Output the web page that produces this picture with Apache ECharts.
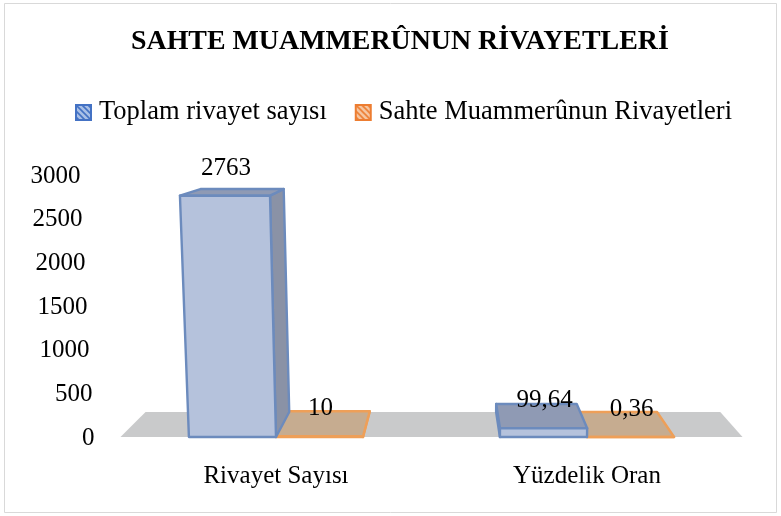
<!DOCTYPE html>
<html><head><meta charset="utf-8">
<script src="https://cdn.jsdelivr.net/npm/echarts@6/dist/echarts.min.js"></script>
<style>html,body{margin:0;padding:0;background:#fff}#c{width:781px;height:516px}</style>
</head><body><div id="c"></div>
<script>
const titleText = 'SAHTE MUAMMERÛNUN RİVAYETLERİ';
const categories = ['Rivayet Sayısı', 'Yüzdelik Oran'];
const totalName = 'Toplam rivayet sayısı';
const fakeName = 'Sahte Muammerûnun Rivayetleri';
const totalValues = [2763, 99.64];
const fakeValues = [10, 0.36];
const yTicks = [0, 500, 1000, 1500, 2000, 2500, 3000];

const FONT = '"Liberation Serif", serif';
const vp = {x: 450, y: 108}, depth = 0.924, lean = 0.0345 / 242;
function pattern(bg, fg) {
  const s = 6, c = document.createElement('canvas');
  c.width = c.height = s;
  const g = c.getContext('2d');
  g.fillStyle = bg; g.fillRect(0, 0, s, s);
  g.strokeStyle = fg; g.lineWidth = 1.6;
  g.beginPath(); g.moveTo(-1, -1); g.lineTo(s + 1, s + 1);
  g.moveTo(-1, s - 1); g.lineTo(1, s + 1); g.moveTo(s - 1, -1); g.lineTo(s + 1, 1); g.stroke();
  return {image: c, repeat: 'repeat'};
}
function projector(api) {
  const baseY = api.coord([0, 0])[1];
  return (x, y, d) => {
    const s = (d ? depth : 1) * (1 + lean * (baseY - y));
    return [vp.x + (x - vp.x) * s, d ? vp.y + (y - vp.y) * depth : y];
  };
}
function barRenderer(side, cols) {
  return (params, api) => {
    const cat = api.value(0), val = api.value(1);
    const c = api.coord([cat, val]), b = api.coord([cat, 0]);
    const w = api.size([1, 0])[0] * 0.28;
    const x0 = side < 0 ? c[0] - w : c[0], x1 = x0 + w;
    const P = projector(api), top = c[1], base = b[1];
    const poly = (pts, fill) => ({type: 'polygon', shape: {points: pts},
      style: {fill: fill, stroke: cols.line, lineWidth: 2.4, lineJoin: 'round'}});
    const kids = [];
    if (x1 < vp.x) kids.push(poly([P(x1, base, 0), P(x1, base, 1), P(x1, top, 1), P(x1, top, 0)], cols.side));
    if (x0 > vp.x) kids.push(poly([P(x0, base, 0), P(x0, base, 1), P(x0, top, 1), P(x0, top, 0)], cols.side));
    kids.push(poly([P(x0, top, 0), P(x1, top, 0), P(x1, top, 1), P(x0, top, 1)], cols.top));
    kids.push(poly([P(x0, base, 0), P(x1, base, 0), P(x1, top, 0), P(x0, top, 0)], cols.front));
    const m = P((x0 + x1) / 2, top, 0);
    kids.push({type: 'text', style: {text: String(val).replace('.', ','), x: m[0] + 1, y: top - 27.5,
      align: 'center', verticalAlign: 'middle', font: '25px ' + FONT, fill: '#000'}});
    return {type: 'group', children: kids};
  };
}
function floorRenderer(params, api) {
  const w = api.size([1, 0])[0];
  const l = api.coord([0, 0])[0] - w / 2, r = api.coord([1, 0])[0] + w / 2;
  const P = projector(api), y = api.coord([0, 0])[1];
  return {type: 'polygon', shape: {points: [P(l, y, 0), P(r, y, 0), P(r, y, 1), P(l, y, 1)]},
    style: {fill: '#c9cacb'}};
}
const blue = {front: '#b5c2dc', side: '#8a92a6', top: '#8f9ab4', line: '#6c8bbd'};
const orange = {front: '#c6ac90', side: '#c6ac90', top: '#c6ac90', line: '#ee9f58'};

const chart = echarts.init(document.getElementById('c'), null, {renderer: 'canvas'});
const rich = {};
yTicks.forEach(t => { rich['t' + t] = {padding: [2, Math.round(14 * t / 3000), 0, 0], fontFamily: FONT, fontSize: 25, color: '#000'}; });
chart.setOption({
  animation: false,
  backgroundColor: '#fff',
  graphic: [{type: 'rect', z: -10, silent: true, shape: {x: 4.5, y: 3.5, width: 772, height: 509},
    style: {fill: '#fff', stroke: '#d9d9d9', lineWidth: 1}}],
  title: {text: titleText, left: 126, top: 23,
    textStyle: {fontFamily: FONT, fontSize: 27.9, fontWeight: 'bold', color: '#000'}},
  legend: {data: [
      {name: totalName, icon: 'rect'}, {name: fakeName, icon: 'rect'}],
    left: 70, top: 94, itemWidth: 15, itemHeight: 15, itemGap: 28,
    textStyle: {fontFamily: FONT, fontSize: 26.5, color: '#000', padding: [0, 0, 0, 3]}},
  grid: {left: 120.5, right: 38.5, top: 175, bottom: 79},
  xAxis: {type: 'category', data: categories, axisLine: {show: false}, axisTick: {show: false},
    axisLabel: {margin: 27, fontFamily: FONT, fontSize: 25, color: '#000'}},
  yAxis: {type: 'value', min: 0, max: 3000, interval: 500, splitLine: {show: false},
    axisLine: {show: false}, axisTick: {show: false},
    axisLabel: {margin: 26, formatter: v => '{t' + v + '|' + v + '}', rich: rich}},
  series: [
    {type: 'custom', name: 'floor', data: [[0, 0]], renderItem: floorRenderer, clip: false, silent: true, z: 1},
    {type: 'custom', name: fakeName, data: fakeValues.map((v, i) => [i, v]), renderItem: barRenderer(1, orange),
      encode: {x: 0, y: 1}, clip: false, z: 2,
      itemStyle: {color: pattern('#f6c8a3', '#ed7d31'), borderColor: '#ed7d31', borderWidth: 1.5}},
    {type: 'custom', name: totalName, data: totalValues.map((v, i) => [i, v]), renderItem: barRenderer(-1, blue),
      encode: {x: 0, y: 1}, clip: false, z: 3,
      itemStyle: {color: pattern('#a9c0e6', '#4472c4'), borderColor: '#4472c4', borderWidth: 1.5}}
  ]
});
</script></body></html>
